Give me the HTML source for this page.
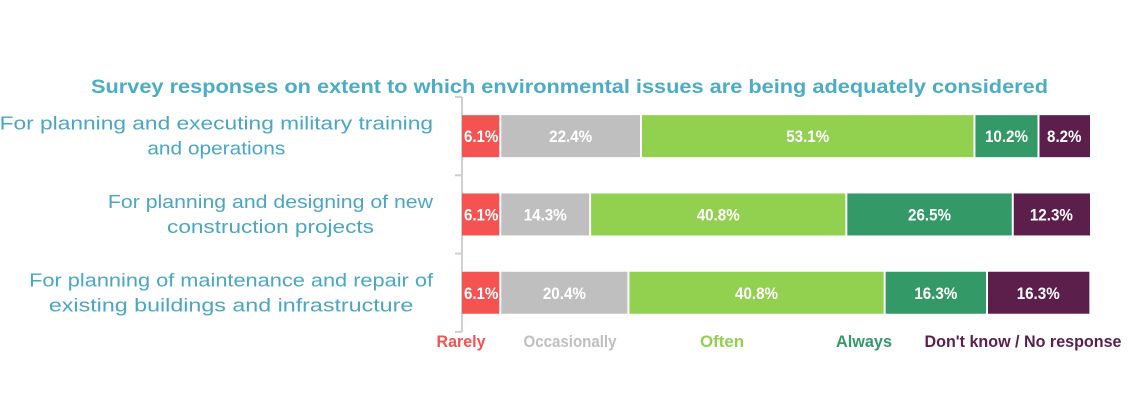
<!DOCTYPE html>
<html><head><meta charset="utf-8"><style>
html,body{margin:0;padding:0;background:#fff;width:1137px;height:417px;overflow:hidden}
svg{display:block}
</style></head><body>
<svg id="chart" width="1137" height="417" xmlns="http://www.w3.org/2000/svg">
<text x="91" y="93" textLength="957" lengthAdjust="spacingAndGlyphs" font-family="Liberation Sans, sans-serif" font-weight="bold" font-size="19" fill="#4bacc6">Survey responses on extent to which environmental issues are being adequately considered</text>
<g id="axis"></g>
<g id="bars"></g>
<g id="cats"></g>
<g id="legend"></g>
</svg>
<script>
const categories = [
  ["For planning and executing military training","and operations"],
  ["For planning and designing of new","construction projects"],
  ["For planning of maintenance and repair of","existing buildings and infrastructure"]
];
const seriesNames = ["Rarely","Occasionally","Often","Always","Don't know / No response"];
const rarely = [6.1, 6.1, 6.1];
const occasionally = [22.4, 14.3, 20.4];
const often = [53.1, 40.8, 40.8];
const always = [10.2, 26.5, 16.3];
const dontKnow = [8.2, 12.3, 16.3];
const series = [rarely, occasionally, often, always, dontKnow];
const colors = ["#f55252","#bfbfbf","#92d050","#339966","#5c1e4b"];
const legendColors = ["#f55252","#bfbfbf","#92d050","#339966","#5c1e4b"];

const NS = "http://www.w3.org/2000/svg";
const x0 = 462, plotW = 628;
const xScale = v => v / 100 * plotW;
const bandTop = 97, bandH = 78.3;
const yBand = i => bandTop + i * bandH;
const barH = 42;

function mk(tag, attrs, parent){const e=document.createElementNS(NS,tag);for(const k in attrs)e.setAttribute(k,attrs[k]);parent.appendChild(e);return e;}

const axis = document.getElementById('axis');
const al = mk('line',{x1:x0,x2:x0,y1:bandTop,y2:yBand(categories.length),stroke:'#d0d0d0','stroke-width':2},axis);


for(let i=0;i<=categories.length;i++){
  const t = mk('line',{x1:x0-7,x2:x0,y1:yBand(i),y2:yBand(i),stroke:'#d0d0d0','stroke-width':2},axis);
  
  
}

const bars = document.getElementById('bars');
categories.forEach((c,i)=>{
  let acc = 0;
  const y = yBand(i) + (bandH - barH)/2;
  series.forEach((s,j)=>{
    const xa = x0 + xScale(acc), w = xScale(s[i]);
    const r = mk('rect',{x:xa+(j?1:0),y:y,width:w-(j?1:0)-(j<series.length-1?1:0),height:barH,fill:colors[j]},bars);
    
    
    const label = s[i].toFixed(1)+'%';
    const t = mk('text',{x:xa+w/2,y:y+barH/2+6,'text-anchor':'middle',textLength:label.length*8.6,lengthAdjust:'spacingAndGlyphs','font-family':'Liberation Sans, sans-serif','font-weight':'bold','font-size':17,fill:'#fff'},bars);
    t.textContent = label;
    
    
    acc += s[i];
  });
});

const cats = document.getElementById('cats');
const catRight = 433;
categories.forEach((lines,i)=>{
  const cy = yBand(i) + bandH/2;
  const widths = lines.map(l=>l.length*9.85);
  const maxW = Math.max(...widths);
  const center = catRight - maxW/2;
  lines.forEach((l,k)=>{
    const t = mk('text',{x:center,y:cy-12.5+25*k+6,'text-anchor':'middle',textLength:widths[k],lengthAdjust:'spacingAndGlyphs','font-family':'Liberation Sans, sans-serif','font-size':18,fill:'#4aa6c6'},cats);
    t.textContent = l;
    
    
  });
});

const legend = document.getElementById('legend');
const legendCenters = [461, 570, 722, 864, 1023];
const legendWidths = [49, 93, 44, 56, 197];
seriesNames.forEach((n,j)=>{
  const t = mk('text',{x:legendCenters[j],y:347,'text-anchor':'middle',textLength:legendWidths[j],lengthAdjust:'spacingAndGlyphs','font-family':'Liberation Sans, sans-serif','font-weight':'bold','font-size':17,fill:legendColors[j]},legend);
  t.textContent = n;
  
  
});
</script>
</body></html>
